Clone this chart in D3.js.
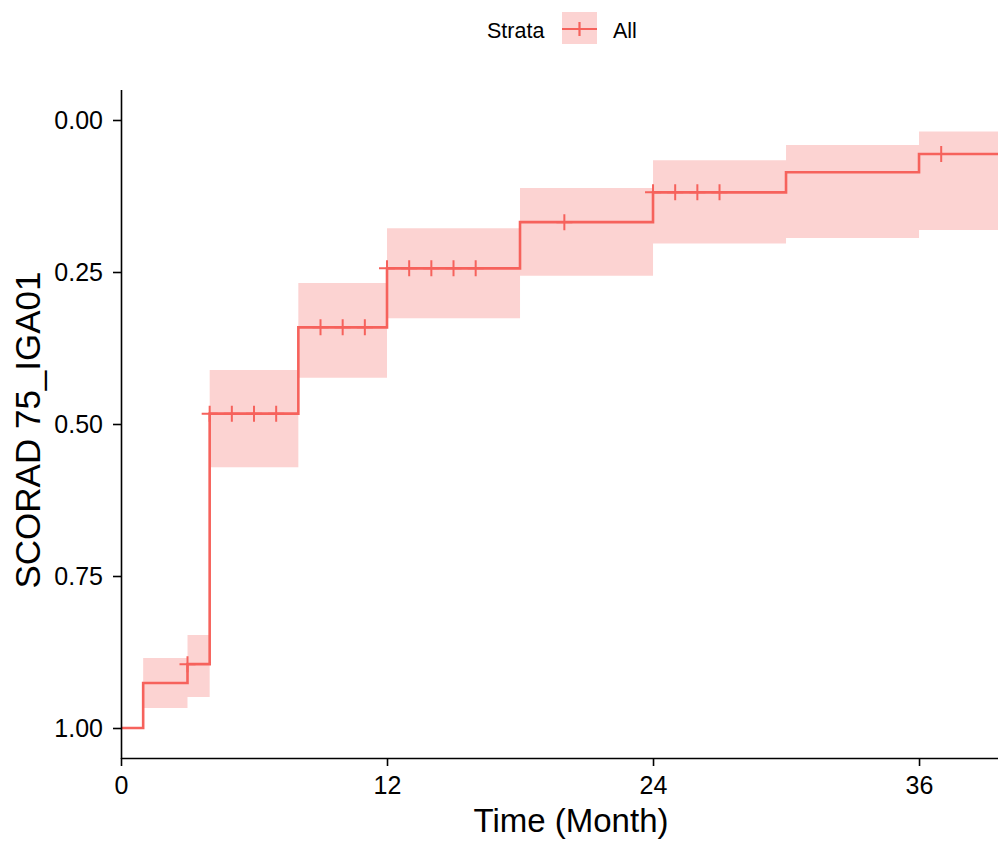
<!DOCTYPE html>
<html>
<head>
<meta charset="utf-8">
<script src="https://cdn.jsdelivr.net/npm/d3@7"></script>
<style>
  body { margin: 0; background: #fff; }
  svg { display: block; font-family: "Liberation Sans", Arial, sans-serif; }
  .axis text { fill: #000; }
</style>
</head>
<body>
<svg id="chart" width="998" height="843"></svg>
<script>
// Kaplan-Meier step data
const times = [0, 1, 3, 4, 8, 12, 18, 24, 30, 36, 40.6];
const surv  = [1.00, 0.926, 0.895, 0.483, 0.341, 0.244, 0.168, 0.119, 0.086, 0.056, 0.056];
const lower = [1.00, 0.885, 0.847, 0.411, 0.268, 0.178, 0.112, 0.066, 0.041, 0.019, 0.019];
const upper = [1.00, 0.967, 0.949, 0.571, 0.424, 0.326, 0.256, 0.203, 0.194, 0.181, 0.181];

// censoring times
const censorTimes = [3, 4, 5, 6, 7, 9, 10, 11, 12, 13, 14, 15, 16, 20, 24, 25, 26, 27, 37];

const xTicks = [0, 12, 24, 36];
const yTicks = [0, 0.25, 0.5, 0.75, 1];

const lineColor = "#F6625C";

const svg = d3.select("#chart");

// scales
const x = d3.scaleLinear().domain([0, 40.6]).range([121, 1021]);
const y = d3.scaleLinear().domain([-0.05, 1.05]).range([89.6, 758.4]);

const rows = times.map((t, i) => ({ t, s: surv[i], lo: lower[i], hi: upper[i] }));

// confidence band
const area = d3.area()
  .curve(d3.curveStepAfter)
  .x(d => x(d.t))
  .y0(d => y(d.lo))
  .y1(d => y(d.hi));

svg.append("path")
  .datum(rows)
  .attr("d", area)
  .attr("fill", lineColor)
  .attr("fill-opacity", 0.28);

// survival step line
const line = d3.line()
  .curve(d3.curveStepAfter)
  .x(d => x(d.t))
  .y(d => y(d.s));

svg.append("path")
  .datum(rows)
  .attr("d", line)
  .attr("fill", "none")
  .attr("stroke", lineColor)
  .attr("stroke-width", 2.6);

// censor marks
function survAt(t) {
  let v = surv[0];
  times.forEach((tt, i) => { if (tt <= t) v = surv[i]; });
  return v;
}

const half = 8;
svg.append("g")
  .selectAll("path")
  .data(censorTimes)
  .join("path")
  .attr("d", t => {
    const cx = x(t), cy = y(survAt(t));
    return `M${cx - half},${cy}H${cx + half}M${cx},${cy - half}V${cy + half}`;
  })
  .attr("stroke", lineColor)
  .attr("stroke-width", 2);

// axes
const yAxis = svg.append("g")
  .attr("class", "axis")
  .attr("transform", "translate(121,0)")
  .call(d3.axisLeft(y).tickValues(yTicks).tickFormat(d3.format(".2f"))
    .tickSize(8).tickSizeOuter(0).tickPadding(10));
yAxis.selectAll("text").style("font-size", "25px");

const xAxis = svg.append("g")
  .attr("class", "axis")
  .attr("transform", "translate(0,758)")
  .call(d3.axisBottom(x).tickValues(xTicks).tickFormat(d3.format("d"))
    .tickSize(8).tickSizeOuter(0).tickPadding(10));
xAxis.selectAll("text").style("font-size", "25px");

svg.selectAll(".axis path, .axis line")
  .attr("stroke", "#000")
  .attr("stroke-width", 1.6);

// axis titles
svg.append("text")
  .attr("x", 571)
  .attr("y", 832)
  .attr("text-anchor", "middle")
  .style("font-size", "33px")
  .text("Time (Month)");

svg.append("text")
  .attr("transform", "translate(40,430) rotate(-90)")
  .attr("text-anchor", "middle")
  .style("font-size", "35px")
  .text("SCORAD 75_IGA01");

// legend
const legend = svg.append("g");
legend.append("text")
  .attr("x", 487)
  .attr("y", 38)
  .style("font-size", "21.5px")
  .text("Strata");
legend.append("rect")
  .attr("x", 562).attr("y", 12)
  .attr("width", 35).attr("height", 32)
  .attr("fill", lineColor)
  .attr("fill-opacity", 0.28);
legend.append("path")
  .attr("d", "M562,29H597M579.5,22V36")
  .attr("stroke", lineColor)
  .attr("stroke-width", 2.2);
legend.append("text")
  .attr("x", 613)
  .attr("y", 38)
  .style("font-size", "21.5px")
  .text("All");
</script>
</body>
</html>
